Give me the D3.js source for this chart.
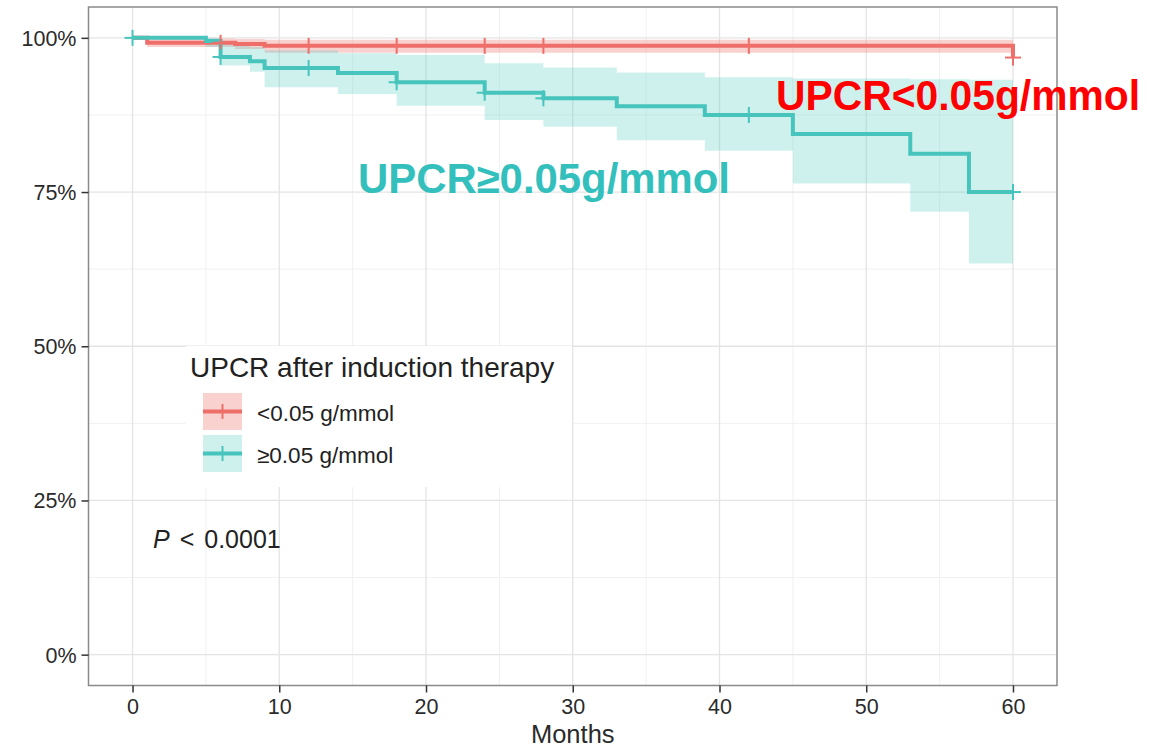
<!DOCTYPE html>
<html>
<head>
<meta charset="utf-8">
<script src="https://cdn.jsdelivr.net/npm/d3@7"></script>
<style>
  html, body { margin: 0; padding: 0; background: #fff; }
  svg { display: block; }
  text { font-family: "Liberation Sans", Arial, Helvetica, sans-serif; }
</style>
</head>
<body>
<svg id="chart" width="1166" height="747"></svg>
<script>
// ---------------- data ----------------
const xTicks = [0, 10, 20, 30, 40, 50, 60];
const yTicks = [0, 0.25, 0.5, 0.75, 1];
const yTickLabels = ["0%", "25%", "50%", "75%", "100%"];
const xLabel = "Months";

const groupNames = ["<0.05 g/mmol", "≥0.05 g/mmol"];
const legendTitle = "UPCR after induction therapy";
const pText = "< 0.0001";

// group 1: UPCR < 0.05 g/mmol
const lowTimes = [0, 1, 7, 9, 60];
const lowSurv  = [1, 0.992, 0.990, 0.987, 0.968];
const lowLower = [1, 0.985, 0.982, 0.976, 0.976];
const lowUpper = [1, 0.999, 0.998, 0.997, 0.997];
const lowCensor = [6, 12, 18, 24, 28, 42, 60];

// group 2: UPCR >= 0.05 g/mmol
const highTimes = [0, 5, 6, 8, 9, 14, 18, 24, 28, 33, 39, 45, 53, 57, 60];
const highSurv  = [1, 0.995, 0.969, 0.962, 0.951, 0.943, 0.928, 0.911, 0.902, 0.889, 0.875, 0.844, 0.812, 0.750, 0.750];
const highLower = [1, 0.985, 0.955, 0.945, 0.920, 0.909, 0.890, 0.867, 0.856, 0.834, 0.817, 0.764, 0.718, 0.634, 0.634];
const highUpper = [1, 1, 0.990, 0.985, 0.980, 0.975, 0.972, 0.959, 0.952, 0.944, 0.936, 0.934, 0.933, 0.932, 0.932];
const highCensor = [0, 6, 12, 18, 24, 28, 42, 60];

const annotLow = "UPCR<0.05g/mmol";
const annotHigh = "UPCR≥0.05g/mmol";

// ---------------- drawing ----------------
const svg = d3.select("#chart");
const panel = { left: 88.5, right: 1057, top: 7, bottom: 685.5 };

const x = d3.scaleLinear().domain([-3, 63]).range([panel.left, panel.right]);
const y = d3.scaleLinear().domain([-0.05, 1.05]).range([panel.bottom, panel.top]);

const RED = "#EE6E6A", TEAL = "#47C4BC";
const RED_FILL = "#F08580", TEAL_FILL = "#5CD0C8";

svg.append("rect").attr("x", panel.left).attr("y", panel.top)
  .attr("width", panel.right - panel.left).attr("height", panel.bottom - panel.top)
  .attr("fill", "#fff");

// grid
const grid = svg.append("g");
const minorX = d3.range(5, 60, 10);
const minorY = [0.125, 0.375, 0.625, 0.875];
grid.selectAll(".mx").data(minorX).join("line")
  .attr("x1", d => x(d)).attr("x2", d => x(d)).attr("y1", panel.top).attr("y2", panel.bottom)
  .attr("stroke", "#F1F1F1").attr("stroke-width", 1);
grid.selectAll(".my").data(minorY).join("line")
  .attr("y1", d => y(d)).attr("y2", d => y(d)).attr("x1", panel.left).attr("x2", panel.right)
  .attr("stroke", "#F1F1F1").attr("stroke-width", 1);
grid.selectAll(".Mx").data(xTicks).join("line")
  .attr("x1", d => x(d)).attr("x2", d => x(d)).attr("y1", panel.top).attr("y2", panel.bottom)
  .attr("stroke", "#E4E4E4").attr("stroke-width", 1.3);
grid.selectAll(".My").data(yTicks).join("line")
  .attr("y1", d => y(d)).attr("y2", d => y(d)).attr("x1", panel.left).attr("x2", panel.right)
  .attr("stroke", "#E4E4E4").attr("stroke-width", 1.3);

function stepAt(times, vals, t) {
  let i = 0;
  for (let k = 0; k < times.length; k++) if (times[k] <= t) i = k;
  return vals[i];
}
function drawBand(times, lower, upper, fill, op) {
  const pts = times.map((t, i) => ({ t, lo: lower[i], hi: upper[i] }));
  const area = d3.area().curve(d3.curveStepAfter)
    .x(d => x(d.t)).y0(d => y(d.lo)).y1(d => y(d.hi));
  svg.append("path").datum(pts).attr("d", area).attr("fill", fill).attr("fill-opacity", op);
}
function drawLine(times, surv, color) {
  const pts = times.map((t, i) => ({ t, s: surv[i] }));
  const line = d3.line().curve(d3.curveStepAfter).x(d => x(d.t)).y(d => y(d.s));
  svg.append("path").datum(pts).attr("d", line).attr("fill", "none")
    .attr("stroke", color).attr("stroke-width", 4).attr("stroke-linejoin", "miter");
}
function drawCensor(times, surv, cens, color) {
  const g = svg.append("g").attr("stroke", color).attr("stroke-width", 2);
  cens.forEach(t => {
    const cx = x(t), cy = y(stepAt(times, surv, t));
    g.append("line").attr("x1", cx - 8).attr("x2", cx + 8).attr("y1", cy).attr("y2", cy);
    g.append("line").attr("x1", cx).attr("x2", cx).attr("y1", cy - 8).attr("y2", cy + 8);
  });
}

drawBand(lowTimes, lowLower, lowUpper, RED_FILL, 0.38);
drawBand(highTimes, highLower, highUpper, TEAL_FILL, 0.3);
drawLine(lowTimes, lowSurv, RED);
drawLine(highTimes, highSurv, TEAL);
drawCensor(lowTimes, lowSurv, lowCensor, RED);
drawCensor(highTimes, highSurv, highCensor, TEAL);

svg.append("rect").attr("x", panel.left).attr("y", panel.top)
  .attr("width", panel.right - panel.left).attr("height", panel.bottom - panel.top)
  .attr("fill", "none").attr("stroke", "#8A8A8A").attr("stroke-width", 1.5);

// axes
const xAxis = svg.append("g").attr("transform", `translate(0,${panel.bottom})`)
  .call(d3.axisBottom(x).tickValues(xTicks).tickSize(7).tickPadding(6).tickFormat(d3.format("d")));
const yAxis = svg.append("g").attr("transform", `translate(${panel.left},0)`)
  .call(d3.axisLeft(y).tickValues(yTicks).tickSize(7).tickPadding(5)
    .tickFormat((d, i) => yTickLabels[i]));
[xAxis, yAxis].forEach(a => {
  a.select(".domain").remove();
  a.selectAll(".tick line").attr("stroke", "#333").attr("stroke-width", 1.5);
  a.selectAll(".tick text").attr("fill", "#2b2b2b").attr("font-size", 21.5)
    .attr("font-family", "'Liberation Sans', Arial, sans-serif");
});
yAxis.selectAll(".tick text").attr("dy", "0.35em");

svg.append("text").attr("x", (panel.left + panel.right) / 2).attr("y", 743)
  .attr("text-anchor", "middle").attr("font-size", 25.5).attr("fill", "#2b2b2b").text(xLabel);

// legend
const lg = svg.append("g");
lg.append("rect").attr("x", 186).attr("y", 346).attr("width", 386).attr("height", 141).attr("fill", "#fff");
lg.append("text").attr("x", 190).attr("y", 377).attr("font-size", 28).attr("fill", "#222").text(legendTitle);
const keyColors = [[RED, RED_FILL, 0.38], [TEAL, TEAL_FILL, 0.3]];
groupNames.forEach((name, i) => {
  const ky = 393 + i * 42;
  const [c, f, op] = keyColors[i];
  lg.append("rect").attr("x", 203).attr("y", ky).attr("width", 39).attr("height", 37)
    .attr("fill", f).attr("fill-opacity", op);
  lg.append("line").attr("x1", 203).attr("x2", 242).attr("y1", ky + 18.5).attr("y2", ky + 18.5)
    .attr("stroke", c).attr("stroke-width", 4);
  lg.append("line").attr("x1", 222.5).attr("x2", 222.5).attr("y1", ky + 11).attr("y2", ky + 26)
    .attr("stroke", c).attr("stroke-width", 2);
  lg.append("text").attr("x", 257).attr("y", ky + 28).attr("font-size", 22.5).attr("fill", "#222").text(name);
});

// p-value
const pt = svg.append("text").attr("x", 153).attr("y", 548).attr("font-size", 25)
  .attr("fill", "#222").attr("word-spacing", 3);
pt.append("tspan").attr("font-style", "italic").text("P");
pt.append("tspan").attr("dx", 10).text(pText);

// big annotations
svg.append("text").attr("x", 776).attr("y", 110).attr("font-family", "Lato, 'Open Sans', sans-serif")
  .attr("font-weight", "bold").attr("font-size", 42).attr("fill", "#FF0000")
  .attr("textLength", 364).attr("lengthAdjust", "spacingAndGlyphs").text(annotLow);
svg.append("text").attr("x", 358).attr("y", 193).attr("font-family", "Lato, 'Open Sans', sans-serif")
  .attr("font-weight", "bold").attr("font-size", 42).attr("fill", "#33C0BD")
  .attr("textLength", 372).attr("lengthAdjust", "spacingAndGlyphs").text(annotHigh);
</script>
</body>
</html>
